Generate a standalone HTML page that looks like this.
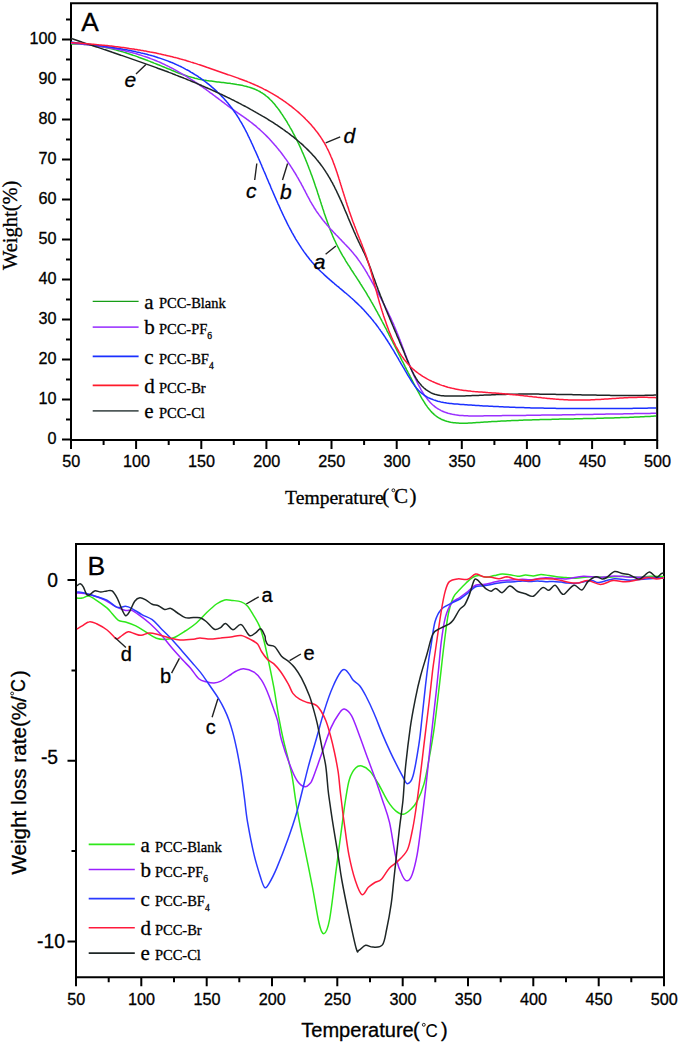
<!DOCTYPE html><html><head><meta charset="utf-8"><style>html,body{margin:0;padding:0;background:#fff;}svg{display:block;} text{stroke:#000;stroke-width:0.3px;}</style></head><body>
<svg width="680" height="1048" viewBox="0 0 680 1048">
<rect width="680" height="1048" fill="#fff"/>
<g fill="none" stroke="#000" stroke-width="2" stroke-linecap="square">
<path d="M71.0 3.2 H657.2 V440.0 H71.0 Z"/>
<path stroke-linecap="butt" d="M62.0 439.4H71.0M62.0 399.4H71.0M62.0 359.4H71.0M62.0 319.4H71.0M62.0 279.4H71.0M62.0 239.4H71.0M62.0 199.4H71.0M62.0 159.4H71.0M62.0 119.4H71.0M62.0 79.4H71.0M62.0 39.4H71.0M66.0 419.4H71.0M66.0 379.4H71.0M66.0 339.4H71.0M66.0 299.4H71.0M66.0 259.4H71.0M66.0 219.4H71.0M66.0 179.4H71.0M66.0 139.4H71.0M66.0 99.4H71.0M66.0 59.4H71.0M66.0 19.4H71.0M71.0 440.0V449.0M136.1 440.0V449.0M201.3 440.0V449.0M266.4 440.0V449.0M331.5 440.0V449.0M396.7 440.0V449.0M461.8 440.0V449.0M526.9 440.0V449.0M592.1 440.0V449.0M657.2 440.0V449.0M103.6 440.0V445.0M168.7 440.0V445.0M233.8 440.0V445.0M299.0 440.0V445.0M364.1 440.0V445.0M429.2 440.0V445.0M494.4 440.0V445.0M559.5 440.0V445.0M624.6 440.0V445.0"/>
</g>
<g font-family="Liberation Sans, sans-serif" font-size="16.2" fill="#000">
<text x="56.4" y="444.0" text-anchor="end">0</text>
<text x="56.4" y="404.0" text-anchor="end">10</text>
<text x="56.4" y="364.0" text-anchor="end">20</text>
<text x="56.4" y="324.0" text-anchor="end">30</text>
<text x="56.4" y="284.0" text-anchor="end">40</text>
<text x="56.4" y="244.0" text-anchor="end">50</text>
<text x="56.4" y="204.0" text-anchor="end">60</text>
<text x="56.4" y="164.0" text-anchor="end">70</text>
<text x="56.4" y="124.0" text-anchor="end">80</text>
<text x="56.4" y="84.0" text-anchor="end">90</text>
<text x="56.4" y="44.0" text-anchor="end">100</text>
<text x="71.3" y="467.0" text-anchor="middle">50</text>
<text x="136.4" y="467.0" text-anchor="middle">100</text>
<text x="201.6" y="467.0" text-anchor="middle">150</text>
<text x="266.7" y="467.0" text-anchor="middle">200</text>
<text x="331.8" y="467.0" text-anchor="middle">250</text>
<text x="397.0" y="467.0" text-anchor="middle">300</text>
<text x="462.1" y="467.0" text-anchor="middle">350</text>
<text x="527.2" y="467.0" text-anchor="middle">400</text>
<text x="592.4" y="467.0" text-anchor="middle">450</text>
<text x="657.5" y="467.0" text-anchor="middle">500</text>
</g>
<text x="81.3" y="31.0" font-family="Liberation Sans, sans-serif" font-size="26.3">A</text>
<text transform="translate(16.7 225.3) rotate(-90)" text-anchor="middle" font-family="Liberation Serif, serif" font-size="20.5">Weight(%)</text>
<text x="285.1" y="503.5" font-family="Liberation Serif, serif" font-size="19.6">Temperature</text>
<text x="382.3" y="503.0" font-family="Liberation Serif, serif" font-size="21">(</text>
<circle cx="393.4" cy="490.3" r="1.45" fill="none" stroke="#000" stroke-width="0.9"/>
<text x="393.9" y="503.2" font-family="Liberation Serif, serif" font-size="21.1">C</text>
<text x="409.5" y="503.0" font-family="Liberation Serif, serif" font-size="21">)</text>
<path d="M92.7 301.3H138.6" stroke="#169e16" stroke-width="1.3"/>
<text x="144.3" y="308.5" font-family="Liberation Serif, serif" font-size="21">a</text>
<text x="158.9" y="308.4" font-family="Liberation Serif, serif" font-size="14.5">PCC-Blank</text>
<path d="M92.7 327.1H138.6" stroke="#a448ff" stroke-width="1.7"/>
<text x="144.3" y="334.3" font-family="Liberation Serif, serif" font-size="21">b</text>
<text x="158.9" y="334.2" font-family="Liberation Serif, serif" font-size="14.5">PCC-PF<tspan font-size="9.5" dy="5">6</tspan></text>
<path d="M92.7 356.4H138.6" stroke="#1a30ff" stroke-width="1.6"/>
<text x="144.3" y="363.6" font-family="Liberation Serif, serif" font-size="21">c</text>
<text x="158.9" y="363.5" font-family="Liberation Serif, serif" font-size="14.5">PCC-BF<tspan font-size="9.5" dy="5">4</tspan></text>
<path d="M92.7 385.4H138.6" stroke="#ff1a2a" stroke-width="1.6"/>
<text x="144.3" y="392.6" font-family="Liberation Serif, serif" font-size="21">d</text>
<text x="158.9" y="392.5" font-family="Liberation Serif, serif" font-size="14.5">PCC-Br</text>
<path d="M92.7 410.9H138.6" stroke="#505a5a" stroke-width="1.8"/>
<text x="144.3" y="418.1" font-family="Liberation Serif, serif" font-size="21">e</text>
<text x="158.9" y="418.0" font-family="Liberation Serif, serif" font-size="14.5">PCC-Cl</text>
<path d="M71.0 44.0 L72.5 44.0 L74.0 44.0 L75.6 44.0 L77.1 44.0 L78.6 44.1 L80.1 44.1 L81.6 44.2 L83.1 44.3 L84.7 44.4 L86.2 44.5 L87.7 44.7 L89.2 44.8 L90.7 45.0 L92.2 45.2 L93.6 45.4 L95.1 45.6 L96.6 45.8 L98.1 46.1 L99.6 46.3 L101.1 46.6 L102.5 46.9 L104.0 47.2 L105.5 47.5 L106.9 47.8 L108.4 48.1 L109.9 48.4 L111.3 48.8 L112.8 49.1 L114.2 49.5 L115.7 49.9 L117.1 50.3 L118.6 50.7 L120.0 51.1 L121.5 51.5 L122.9 51.9 L124.3 52.4 L125.8 52.8 L127.2 53.3 L128.6 53.7 L130.1 54.2 L131.5 54.7 L132.9 55.2 L134.3 55.6 L135.8 56.1 L137.2 56.6 L138.6 57.2 L140.0 57.7 L141.4 58.2 L142.8 58.7 L144.2 59.2 L145.7 59.8 L147.1 60.3 L148.5 60.9 L149.9 61.4 L151.3 62.0 L152.7 62.5 L154.1 63.1 L155.5 63.6 L156.9 64.2 L158.3 64.8 L159.7 65.3 L161.1 65.9 L162.5 66.5 L163.9 67.0 L165.3 67.6 L166.7 68.2 L168.1 68.8 L169.5 69.3 L170.9 69.9 L172.2 70.5 L173.6 71.0 L175.0 71.6 L176.4 72.2 L177.8 72.7 L179.2 73.2 L180.6 73.7 L182.1 74.3 L183.5 74.8 L184.9 75.2 L186.3 75.7 L187.7 76.2 L189.1 76.6 L190.6 77.0 L192.0 77.4 L193.5 77.8 L194.9 78.2 L196.4 78.5 L197.8 78.9 L199.3 79.2 L200.8 79.4 L202.2 79.7 L203.7 80.0 L205.2 80.2 L206.7 80.5 L208.2 80.7 L209.7 80.9 L211.2 81.1 L212.7 81.3 L214.2 81.5 L215.7 81.7 L217.2 81.9 L218.7 82.0 L220.2 82.2 L221.8 82.4 L223.3 82.6 L224.8 82.8 L226.3 83.0 L227.8 83.2 L229.4 83.3 L230.9 83.6 L232.4 83.8 L233.9 84.0 L235.4 84.2 L237.0 84.5 L238.5 84.7 L240.0 85.0 L241.5 85.3 L243.0 85.6 L244.4 86.0 L245.9 86.3 L247.4 86.7 L248.8 87.1 L250.2 87.5 L251.6 88.0 L253.0 88.5 L254.4 89.0 L255.8 89.6 L257.1 90.2 L258.4 90.9 L259.7 91.5 L261.0 92.3 L262.2 93.0 L263.4 93.8 L264.6 94.7 L265.7 95.6 L266.9 96.5 L268.0 97.4 L269.1 98.4 L270.1 99.5 L271.2 100.5 L272.2 101.6 L273.2 102.7 L274.2 103.8 L275.2 105.0 L276.1 106.2 L277.1 107.4 L278.0 108.6 L278.9 109.8 L279.8 111.0 L280.6 112.3 L281.5 113.6 L282.4 114.8 L283.2 116.1 L284.0 117.4 L284.9 118.7 L285.7 120.0 L286.5 121.2 L287.3 122.5 L288.0 123.8 L288.8 125.1 L289.6 126.5 L290.3 127.8 L291.1 129.1 L291.8 130.4 L292.5 131.7 L293.2 133.1 L293.9 134.4 L294.6 135.7 L295.3 137.1 L296.0 138.4 L296.7 139.8 L297.4 141.1 L298.0 142.5 L298.7 143.8 L299.3 145.2 L300.0 146.6 L300.6 147.9 L301.2 149.3 L301.8 150.7 L302.4 152.1 L303.0 153.4 L303.6 154.8 L304.2 156.2 L304.8 157.6 L305.4 159.0 L305.9 160.4 L306.5 161.8 L307.1 163.2 L307.6 164.6 L308.2 166.0 L308.7 167.4 L309.2 168.8 L309.8 170.2 L310.3 171.6 L310.8 173.0 L311.3 174.4 L311.9 175.8 L312.4 177.3 L312.9 178.7 L313.4 180.1 L313.9 181.5 L314.4 182.9 L314.9 184.4 L315.3 185.8 L315.8 187.2 L316.3 188.6 L316.8 190.1 L317.3 191.5 L317.7 192.9 L318.2 194.4 L318.7 195.8 L319.1 197.2 L319.6 198.7 L320.1 200.1 L320.5 201.5 L321.0 203.0 L321.4 204.4 L321.9 205.8 L322.4 207.3 L322.8 208.7 L323.3 210.1 L323.8 211.6 L324.2 213.0 L324.7 214.4 L325.2 215.8 L325.7 217.3 L326.2 218.7 L326.7 220.1 L327.2 221.5 L327.7 222.9 L328.2 224.3 L328.7 225.7 L329.2 227.1 L329.7 228.5 L330.3 229.9 L330.8 231.3 L331.4 232.7 L332.0 234.1 L332.5 235.5 L333.1 236.9 L333.7 238.2 L334.3 239.6 L335.0 241.0 L335.6 242.3 L336.2 243.7 L336.9 245.0 L337.6 246.4 L338.3 247.7 L339.0 249.0 L339.7 250.4 L340.4 251.7 L341.1 253.0 L341.9 254.3 L342.6 255.6 L343.4 256.9 L344.2 258.2 L345.0 259.5 L345.7 260.8 L346.5 262.1 L347.3 263.4 L348.1 264.7 L349.0 265.9 L349.8 267.2 L350.6 268.5 L351.4 269.8 L352.2 271.0 L353.1 272.3 L353.9 273.6 L354.7 274.9 L355.6 276.1 L356.4 277.4 L357.2 278.7 L358.0 279.9 L358.9 281.2 L359.7 282.5 L360.5 283.8 L361.3 285.0 L362.1 286.3 L362.9 287.6 L363.7 288.9 L364.5 290.2 L365.3 291.4 L366.1 292.7 L366.9 294.0 L367.6 295.3 L368.4 296.6 L369.2 297.9 L369.9 299.2 L370.7 300.5 L371.4 301.8 L372.2 303.1 L372.9 304.4 L373.6 305.7 L374.4 307.0 L375.1 308.3 L375.8 309.6 L376.5 310.9 L377.3 312.2 L378.0 313.6 L378.7 314.9 L379.4 316.2 L380.1 317.5 L380.8 318.8 L381.5 320.1 L382.2 321.5 L382.9 322.8 L383.6 324.1 L384.3 325.4 L385.0 326.8 L385.7 328.1 L386.4 329.4 L387.0 330.8 L387.7 332.1 L388.4 333.4 L389.1 334.8 L389.8 336.1 L390.4 337.4 L391.1 338.8 L391.8 340.1 L392.5 341.4 L393.1 342.8 L393.8 344.1 L394.5 345.5 L395.2 346.8 L395.8 348.2 L396.5 349.5 L397.2 350.9 L397.9 352.2 L398.5 353.5 L399.2 354.9 L399.9 356.2 L400.6 357.6 L401.2 358.9 L401.9 360.3 L402.6 361.6 L403.3 363.0 L404.0 364.4 L404.6 365.7 L405.3 367.1 L406.0 368.4 L406.7 369.8 L407.4 371.1 L408.1 372.5 L408.8 373.8 L409.5 375.2 L410.2 376.6 L410.9 377.9 L411.6 379.3 L412.3 380.6 L413.0 382.0 L413.7 383.4 L414.4 384.7 L415.1 386.1 L415.9 387.4 L416.6 388.8 L417.3 390.2 L418.0 391.5 L418.8 392.9 L419.5 394.2 L420.3 395.6 L421.0 396.9 L421.8 398.3 L422.6 399.6 L423.4 400.9 L424.2 402.2 L425.0 403.5 L425.8 404.7 L426.7 405.9 L427.5 407.1 L428.4 408.3 L429.4 409.4 L430.3 410.5 L431.2 411.6 L432.2 412.6 L433.3 413.6 L434.3 414.6 L435.4 415.5 L436.5 416.3 L437.6 417.1 L438.8 417.9 L440.0 418.5 L441.2 419.2 L442.5 419.8 L443.8 420.3 L445.1 420.8 L446.5 421.2 L447.9 421.6 L449.3 421.9 L450.7 422.2 L452.2 422.4 L453.6 422.7 L455.1 422.8 L456.6 423.0 L458.1 423.1 L459.6 423.2 L461.1 423.2 L462.6 423.2 L464.1 423.2 L465.7 423.2 L467.2 423.2 L468.7 423.1 L470.3 423.0 L471.8 422.9 L473.4 422.8 L475.0 422.7 L476.5 422.6 L478.1 422.5 L479.6 422.4 L481.2 422.3 L482.7 422.2 L484.3 422.1 L485.8 422.0 L487.4 421.9 L488.9 421.8 L490.4 421.7 L492.0 421.6 L493.5 421.5 L495.1 421.5 L496.6 421.4 L498.1 421.3 L499.7 421.2 L501.2 421.1 L502.7 421.0 L504.2 421.0 L505.8 420.9 L507.3 420.8 L508.8 420.8 L510.3 420.7 L511.8 420.6 L513.3 420.6 L514.9 420.5 L516.4 420.4 L517.9 420.4 L519.4 420.3 L520.9 420.3 L522.4 420.2 L523.9 420.1 L525.4 420.1 L526.9 420.0 L528.4 420.0 L529.9 419.9 L531.4 419.9 L532.9 419.8 L534.4 419.8 L535.9 419.8 L537.4 419.7 L538.9 419.7 L540.4 419.6 L541.9 419.6 L543.4 419.5 L544.9 419.5 L546.4 419.5 L547.9 419.4 L549.4 419.4 L550.9 419.4 L552.4 419.3 L553.9 419.3 L555.4 419.2 L556.9 419.2 L558.3 419.2 L559.8 419.1 L561.3 419.1 L562.8 419.1 L564.3 419.0 L565.8 419.0 L567.3 419.0 L568.8 419.0 L570.3 418.9 L571.7 418.9 L573.2 418.9 L574.7 418.8 L576.2 418.8 L577.7 418.8 L579.2 418.7 L580.7 418.7 L582.2 418.7 L583.7 418.6 L585.1 418.6 L586.6 418.6 L588.1 418.5 L589.6 418.5 L591.1 418.5 L592.6 418.4 L594.1 418.4 L595.6 418.4 L597.1 418.3 L598.6 418.3 L600.1 418.2 L601.6 418.2 L603.0 418.2 L604.5 418.1 L606.0 418.1 L607.5 418.0 L609.0 418.0 L610.5 418.0 L612.0 417.9 L613.5 417.9 L615.0 417.8 L616.5 417.8 L618.0 417.7 L619.5 417.7 L621.0 417.6 L622.6 417.6 L624.1 417.5 L625.6 417.5 L627.1 417.4 L628.6 417.4 L630.1 417.3 L631.6 417.2 L633.1 417.2 L634.7 417.1 L636.2 417.1 L637.7 417.0 L639.2 416.9 L640.7 416.8 L642.3 416.8 L643.8 416.7 L645.3 416.6 L646.8 416.5 L648.4 416.5 L649.9 416.4 L651.4 416.3 L653.0 416.2 L654.5 416.1 L656.0 416.0" fill="none" stroke="#1ec81e" stroke-width="1.5" stroke-linejoin="round"/>
<path d="M71.0 43.2 L72.5 43.3 L74.0 43.4 L75.5 43.5 L77.0 43.7 L78.4 43.8 L79.9 44.0 L81.4 44.1 L82.9 44.3 L84.4 44.4 L85.9 44.6 L87.4 44.8 L88.9 44.9 L90.4 45.1 L91.9 45.3 L93.4 45.5 L94.9 45.6 L96.4 45.8 L97.8 46.0 L99.3 46.3 L100.8 46.5 L102.3 46.7 L103.8 46.9 L105.3 47.1 L106.8 47.4 L108.3 47.6 L109.8 47.9 L111.3 48.1 L112.8 48.4 L114.3 48.7 L115.8 49.0 L117.3 49.3 L118.7 49.6 L120.2 49.9 L121.7 50.2 L123.2 50.5 L124.6 50.8 L126.1 51.2 L127.6 51.5 L129.1 51.9 L130.5 52.3 L132.0 52.6 L133.4 53.0 L134.9 53.4 L136.3 53.8 L137.8 54.3 L139.2 54.7 L140.7 55.1 L142.1 55.6 L143.5 56.1 L144.9 56.5 L146.4 57.0 L147.8 57.5 L149.2 58.0 L150.6 58.6 L152.0 59.1 L153.4 59.6 L154.8 60.2 L156.2 60.8 L157.6 61.4 L158.9 61.9 L160.3 62.5 L161.7 63.2 L163.0 63.8 L164.4 64.4 L165.7 65.1 L167.1 65.7 L168.4 66.4 L169.8 67.1 L171.1 67.8 L172.4 68.4 L173.8 69.2 L175.1 69.9 L176.4 70.6 L177.7 71.3 L179.0 72.1 L180.3 72.8 L181.6 73.6 L182.9 74.3 L184.2 75.1 L185.5 75.9 L186.8 76.7 L188.1 77.5 L189.3 78.3 L190.6 79.1 L191.9 79.9 L193.1 80.7 L194.4 81.5 L195.7 82.4 L196.9 83.2 L198.2 84.0 L199.4 84.9 L200.6 85.8 L201.9 86.6 L203.1 87.5 L204.3 88.4 L205.6 89.2 L206.8 90.1 L208.0 91.0 L209.2 91.9 L210.4 92.8 L211.7 93.7 L212.9 94.6 L214.1 95.5 L215.3 96.4 L216.5 97.3 L217.7 98.2 L218.9 99.1 L220.1 100.0 L221.3 100.9 L222.5 101.8 L223.7 102.7 L224.9 103.6 L226.1 104.5 L227.3 105.4 L228.5 106.3 L229.7 107.2 L230.9 108.1 L232.2 109.0 L233.4 109.8 L234.6 110.7 L235.9 111.6 L237.1 112.4 L238.4 113.3 L239.6 114.1 L240.8 115.0 L242.1 115.8 L243.3 116.7 L244.6 117.6 L245.8 118.4 L247.0 119.3 L248.2 120.2 L249.4 121.1 L250.6 122.0 L251.8 122.9 L253.0 123.8 L254.2 124.8 L255.3 125.7 L256.5 126.7 L257.6 127.7 L258.7 128.7 L259.9 129.7 L261.0 130.7 L262.1 131.7 L263.2 132.7 L264.2 133.7 L265.3 134.8 L266.4 135.9 L267.4 136.9 L268.5 138.0 L269.5 139.1 L270.5 140.2 L271.5 141.3 L272.5 142.4 L273.5 143.5 L274.5 144.7 L275.5 145.8 L276.5 147.0 L277.4 148.1 L278.4 149.3 L279.3 150.5 L280.3 151.6 L281.2 152.8 L282.1 154.0 L283.0 155.2 L283.9 156.4 L284.8 157.7 L285.7 158.9 L286.6 160.1 L287.4 161.3 L288.3 162.6 L289.1 163.8 L290.0 165.1 L290.8 166.4 L291.6 167.6 L292.4 168.9 L293.2 170.2 L294.0 171.5 L294.8 172.7 L295.6 174.0 L296.4 175.3 L297.1 176.6 L297.9 177.9 L298.7 179.3 L299.4 180.6 L300.1 181.9 L300.9 183.2 L301.6 184.6 L302.3 185.9 L303.0 187.2 L303.7 188.6 L304.4 189.9 L305.1 191.2 L305.8 192.6 L306.5 193.9 L307.2 195.3 L307.9 196.6 L308.6 197.9 L309.3 199.2 L310.0 200.6 L310.7 201.9 L311.5 203.2 L312.2 204.5 L313.0 205.7 L313.8 207.0 L314.5 208.3 L315.4 209.5 L316.2 210.8 L317.0 212.0 L317.9 213.2 L318.7 214.4 L319.6 215.6 L320.5 216.8 L321.4 218.0 L322.3 219.2 L323.2 220.4 L324.2 221.5 L325.1 222.7 L326.1 223.8 L327.0 225.0 L328.0 226.1 L329.0 227.2 L330.0 228.4 L331.0 229.5 L332.1 230.6 L333.1 231.7 L334.1 232.8 L335.2 233.9 L336.2 235.0 L337.3 236.0 L338.3 237.1 L339.4 238.2 L340.4 239.3 L341.5 240.4 L342.5 241.5 L343.6 242.6 L344.6 243.7 L345.7 244.8 L346.7 245.9 L347.8 247.0 L348.8 248.1 L349.8 249.2 L350.8 250.3 L351.8 251.5 L352.8 252.6 L353.7 253.8 L354.7 254.9 L355.6 256.1 L356.6 257.3 L357.5 258.5 L358.3 259.7 L359.2 260.9 L360.1 262.1 L360.9 263.3 L361.7 264.6 L362.6 265.8 L363.4 267.1 L364.2 268.4 L365.0 269.6 L365.7 270.9 L366.5 272.2 L367.3 273.5 L368.0 274.8 L368.8 276.1 L369.5 277.4 L370.2 278.7 L371.0 280.0 L371.7 281.4 L372.4 282.7 L373.2 284.0 L373.9 285.3 L374.6 286.6 L375.3 288.0 L376.1 289.3 L376.8 290.6 L377.5 291.9 L378.2 293.3 L378.9 294.6 L379.6 295.9 L380.4 297.3 L381.1 298.6 L381.8 299.9 L382.5 301.3 L383.2 302.6 L383.8 303.9 L384.5 305.3 L385.2 306.6 L385.9 308.0 L386.6 309.3 L387.2 310.7 L387.9 312.0 L388.5 313.4 L389.2 314.8 L389.8 316.1 L390.5 317.5 L391.1 318.8 L391.7 320.2 L392.3 321.6 L393.0 323.0 L393.6 324.3 L394.1 325.7 L394.7 327.1 L395.3 328.5 L395.9 329.9 L396.5 331.2 L397.0 332.6 L397.6 334.0 L398.1 335.4 L398.7 336.8 L399.2 338.2 L399.8 339.6 L400.3 341.0 L400.8 342.4 L401.4 343.8 L401.9 345.2 L402.4 346.6 L403.0 348.0 L403.5 349.4 L404.0 350.8 L404.5 352.2 L405.1 353.6 L405.6 355.0 L406.2 356.5 L406.7 357.9 L407.2 359.3 L407.8 360.7 L408.4 362.1 L408.9 363.5 L409.5 364.9 L410.0 366.3 L410.6 367.7 L411.2 369.1 L411.8 370.5 L412.4 371.9 L413.0 373.3 L413.6 374.7 L414.2 376.1 L414.9 377.5 L415.5 378.8 L416.2 380.2 L416.9 381.6 L417.5 383.0 L418.2 384.4 L418.9 385.7 L419.7 387.1 L420.4 388.4 L421.1 389.8 L421.9 391.1 L422.7 392.4 L423.5 393.7 L424.3 394.9 L425.2 396.2 L426.1 397.4 L427.0 398.5 L427.9 399.7 L428.8 400.8 L429.8 401.9 L430.8 403.0 L431.8 404.0 L432.9 405.0 L434.0 405.9 L435.1 406.8 L436.2 407.7 L437.4 408.5 L438.6 409.2 L439.9 409.9 L441.2 410.6 L442.5 411.2 L443.8 411.8 L445.2 412.3 L446.6 412.7 L448.0 413.2 L449.4 413.6 L450.9 413.9 L452.3 414.3 L453.8 414.5 L455.3 414.8 L456.8 415.0 L458.3 415.2 L459.8 415.4 L461.3 415.5 L462.8 415.6 L464.3 415.7 L465.9 415.8 L467.4 415.8 L468.9 415.9 L470.5 415.9 L472.0 415.9 L473.6 415.9 L475.1 415.9 L476.6 415.9 L478.2 415.9 L479.7 415.9 L481.3 415.9 L482.8 415.9 L484.3 415.8 L485.9 415.8 L487.4 415.8 L488.9 415.8 L490.5 415.8 L492.0 415.8 L493.5 415.7 L495.1 415.7 L496.6 415.7 L498.1 415.7 L499.6 415.7 L501.2 415.7 L502.7 415.6 L504.2 415.6 L505.7 415.6 L507.2 415.6 L508.7 415.6 L510.3 415.6 L511.8 415.5 L513.3 415.5 L514.8 415.5 L516.3 415.5 L517.8 415.5 L519.3 415.4 L520.8 415.4 L522.3 415.4 L523.8 415.4 L525.4 415.4 L526.9 415.3 L528.4 415.3 L529.9 415.3 L531.4 415.3 L532.9 415.3 L534.4 415.2 L535.9 415.2 L537.4 415.2 L538.9 415.2 L540.4 415.2 L541.9 415.1 L543.4 415.1 L544.9 415.1 L546.3 415.1 L547.8 415.1 L549.3 415.0 L550.8 415.0 L552.3 415.0 L553.8 415.0 L555.3 415.0 L556.8 414.9 L558.3 414.9 L559.8 414.9 L561.3 414.9 L562.8 414.8 L564.3 414.8 L565.8 414.8 L567.3 414.8 L568.7 414.8 L570.2 414.7 L571.7 414.7 L573.2 414.7 L574.7 414.7 L576.2 414.6 L577.7 414.6 L579.2 414.6 L580.7 414.6 L582.2 414.5 L583.7 414.5 L585.2 414.5 L586.7 414.5 L588.2 414.4 L589.6 414.4 L591.1 414.4 L592.6 414.4 L594.1 414.3 L595.6 414.3 L597.1 414.3 L598.6 414.3 L600.1 414.2 L601.6 414.2 L603.1 414.2 L604.6 414.2 L606.1 414.1 L607.6 414.1 L609.1 414.1 L610.6 414.1 L612.1 414.0 L613.6 414.0 L615.1 414.0 L616.6 414.0 L618.1 413.9 L619.6 413.9 L621.1 413.9 L622.6 413.9 L624.1 413.8 L625.6 413.8 L627.2 413.8 L628.7 413.8 L630.2 413.7 L631.7 413.7 L633.2 413.7 L634.7 413.6 L636.2 413.6 L637.7 413.6 L639.3 413.6 L640.8 413.5 L642.3 413.5 L643.8 413.5 L645.3 413.5 L646.9 413.4 L648.4 413.4 L649.9 413.4 L651.4 413.3 L653.0 413.3 L654.5 413.3 L656.0 413.3" fill="none" stroke="#9a30ff" stroke-width="1.5" stroke-linejoin="round"/>
<path d="M71.1 42.1 L72.5 42.3 L74.0 42.5 L75.5 42.7 L77.0 42.9 L78.4 43.0 L79.9 43.2 L81.4 43.4 L82.9 43.6 L84.4 43.8 L85.9 44.0 L87.3 44.2 L88.8 44.3 L90.3 44.5 L91.8 44.7 L93.3 44.9 L94.8 45.1 L96.3 45.3 L97.8 45.5 L99.3 45.7 L100.8 45.9 L102.3 46.1 L103.8 46.3 L105.3 46.5 L106.8 46.7 L108.3 46.9 L109.8 47.1 L111.3 47.3 L112.7 47.6 L114.2 47.8 L115.7 48.0 L117.2 48.3 L118.7 48.5 L120.2 48.7 L121.7 49.0 L123.2 49.3 L124.7 49.5 L126.2 49.8 L127.7 50.1 L129.1 50.3 L130.6 50.6 L132.1 50.9 L133.6 51.2 L135.1 51.5 L136.5 51.9 L138.0 52.2 L139.5 52.5 L140.9 52.9 L142.4 53.2 L143.9 53.6 L145.3 53.9 L146.8 54.3 L148.2 54.7 L149.7 55.1 L151.1 55.5 L152.6 55.9 L154.0 56.3 L155.5 56.8 L156.9 57.2 L158.3 57.7 L159.7 58.1 L161.2 58.6 L162.6 59.1 L164.0 59.6 L165.4 60.1 L166.8 60.6 L168.2 61.1 L169.6 61.7 L171.0 62.3 L172.4 62.8 L173.8 63.4 L175.1 64.0 L176.5 64.6 L177.9 65.3 L179.2 65.9 L180.6 66.5 L181.9 67.2 L183.3 67.9 L184.6 68.6 L185.9 69.3 L187.3 70.0 L188.6 70.7 L189.9 71.5 L191.2 72.3 L192.5 73.0 L193.8 73.8 L195.0 74.6 L196.3 75.4 L197.6 76.2 L198.8 77.1 L200.1 77.9 L201.3 78.8 L202.5 79.7 L203.8 80.6 L205.0 81.5 L206.2 82.4 L207.4 83.3 L208.5 84.2 L209.7 85.2 L210.9 86.1 L212.0 87.1 L213.2 88.1 L214.3 89.1 L215.4 90.1 L216.5 91.1 L217.6 92.2 L218.7 93.2 L219.7 94.3 L220.8 95.3 L221.8 96.4 L222.9 97.5 L223.9 98.6 L224.9 99.7 L225.9 100.8 L226.9 102.0 L227.9 103.1 L228.8 104.3 L229.8 105.5 L230.7 106.6 L231.6 107.8 L232.5 109.0 L233.4 110.2 L234.2 111.5 L235.1 112.7 L235.9 113.9 L236.8 115.2 L237.6 116.5 L238.4 117.7 L239.2 119.0 L239.9 120.3 L240.7 121.6 L241.5 122.9 L242.2 124.2 L242.9 125.5 L243.7 126.8 L244.4 128.2 L245.1 129.5 L245.8 130.8 L246.5 132.2 L247.2 133.5 L247.8 134.9 L248.5 136.3 L249.2 137.6 L249.8 139.0 L250.5 140.4 L251.1 141.7 L251.7 143.1 L252.4 144.5 L253.0 145.9 L253.6 147.2 L254.2 148.6 L254.8 150.0 L255.5 151.4 L256.1 152.7 L256.7 154.1 L257.3 155.5 L257.9 156.9 L258.5 158.3 L259.1 159.6 L259.7 161.0 L260.3 162.4 L260.9 163.8 L261.5 165.1 L262.0 166.5 L262.6 167.9 L263.2 169.3 L263.8 170.7 L264.4 172.0 L265.0 173.4 L265.6 174.8 L266.2 176.2 L266.7 177.5 L267.3 178.9 L267.9 180.3 L268.5 181.7 L269.1 183.1 L269.7 184.4 L270.3 185.8 L270.8 187.2 L271.4 188.6 L272.0 190.0 L272.6 191.3 L273.2 192.7 L273.8 194.1 L274.4 195.5 L275.0 196.9 L275.6 198.2 L276.2 199.6 L276.8 201.0 L277.4 202.4 L278.0 203.8 L278.7 205.1 L279.3 206.5 L279.9 207.9 L280.5 209.3 L281.2 210.7 L281.8 212.0 L282.4 213.4 L283.1 214.8 L283.7 216.1 L284.4 217.5 L285.0 218.9 L285.7 220.2 L286.4 221.6 L287.0 222.9 L287.7 224.3 L288.4 225.6 L289.1 227.0 L289.8 228.3 L290.5 229.6 L291.2 230.9 L291.9 232.3 L292.7 233.6 L293.4 234.9 L294.1 236.2 L294.9 237.5 L295.6 238.8 L296.4 240.1 L297.2 241.4 L298.0 242.6 L298.8 243.9 L299.6 245.2 L300.4 246.4 L301.2 247.7 L302.0 248.9 L302.9 250.1 L303.7 251.4 L304.6 252.6 L305.5 253.8 L306.4 255.0 L307.3 256.2 L308.2 257.3 L309.1 258.5 L310.0 259.7 L311.0 260.8 L311.9 262.0 L312.9 263.1 L313.9 264.2 L314.9 265.3 L315.9 266.4 L316.9 267.5 L317.9 268.6 L319.0 269.7 L320.0 270.7 L321.1 271.8 L322.2 272.8 L323.3 273.8 L324.4 274.9 L325.5 275.9 L326.6 276.9 L327.7 277.9 L328.9 278.9 L330.0 279.9 L331.2 280.9 L332.3 281.8 L333.5 282.8 L334.6 283.8 L335.8 284.8 L336.9 285.8 L338.1 286.7 L339.3 287.7 L340.4 288.7 L341.6 289.6 L342.8 290.6 L343.9 291.6 L345.1 292.6 L346.3 293.5 L347.4 294.5 L348.6 295.5 L349.7 296.5 L350.8 297.5 L352.0 298.5 L353.1 299.5 L354.2 300.5 L355.3 301.6 L356.4 302.6 L357.5 303.6 L358.6 304.7 L359.7 305.8 L360.8 306.8 L361.8 307.9 L362.9 309.0 L363.9 310.1 L364.9 311.2 L365.9 312.3 L366.9 313.4 L367.9 314.5 L368.9 315.7 L369.9 316.8 L370.9 318.0 L371.8 319.1 L372.8 320.3 L373.7 321.5 L374.6 322.6 L375.6 323.8 L376.5 325.0 L377.4 326.2 L378.3 327.4 L379.1 328.6 L380.0 329.8 L380.9 331.1 L381.8 332.3 L382.6 333.5 L383.5 334.8 L384.3 336.0 L385.1 337.2 L385.9 338.5 L386.8 339.8 L387.6 341.0 L388.4 342.3 L389.2 343.5 L390.0 344.8 L390.8 346.1 L391.5 347.4 L392.3 348.7 L393.1 349.9 L393.9 351.2 L394.6 352.5 L395.4 353.8 L396.2 355.1 L396.9 356.4 L397.7 357.7 L398.5 359.0 L399.2 360.3 L400.0 361.7 L400.7 363.0 L401.5 364.3 L402.3 365.6 L403.0 366.9 L403.8 368.2 L404.6 369.5 L405.3 370.9 L406.1 372.2 L406.9 373.5 L407.6 374.8 L408.4 376.1 L409.2 377.4 L410.0 378.7 L410.8 380.0 L411.6 381.3 L412.4 382.6 L413.3 383.9 L414.2 385.1 L415.0 386.3 L416.0 387.5 L416.9 388.6 L417.9 389.7 L418.9 390.8 L419.9 391.8 L421.0 392.7 L422.1 393.7 L423.3 394.5 L424.4 395.4 L425.7 396.1 L426.9 396.9 L428.2 397.6 L429.5 398.2 L430.8 398.8 L432.2 399.3 L433.6 399.9 L435.0 400.3 L436.4 400.8 L437.8 401.2 L439.3 401.5 L440.7 401.9 L442.2 402.2 L443.7 402.5 L445.2 402.7 L446.7 403.0 L448.2 403.2 L449.8 403.4 L451.3 403.5 L452.8 403.7 L454.4 403.9 L455.9 404.0 L457.5 404.1 L459.0 404.2 L460.6 404.4 L462.1 404.5 L463.6 404.6 L465.2 404.7 L466.7 404.8 L468.2 404.9 L469.7 405.0 L471.2 405.1 L472.7 405.2 L474.2 405.3 L475.8 405.4 L477.3 405.5 L478.8 405.6 L480.2 405.7 L481.7 405.8 L483.2 405.9 L484.7 405.9 L486.2 406.0 L487.7 406.1 L489.2 406.2 L490.7 406.3 L492.2 406.3 L493.7 406.4 L495.1 406.5 L496.6 406.6 L498.1 406.6 L499.6 406.7 L501.1 406.8 L502.6 406.8 L504.1 406.9 L505.6 407.0 L507.1 407.0 L508.5 407.1 L510.0 407.2 L511.5 407.2 L513.0 407.3 L514.5 407.3 L516.0 407.4 L517.5 407.4 L519.0 407.5 L520.5 407.5 L522.0 407.6 L523.5 407.6 L525.0 407.7 L526.5 407.7 L528.0 407.8 L529.5 407.8 L531.0 407.9 L532.5 407.9 L534.0 407.9 L535.5 408.0 L537.0 408.0 L538.5 408.0 L540.0 408.1 L541.5 408.1 L543.0 408.1 L544.5 408.2 L546.0 408.2 L547.6 408.2 L549.1 408.3 L550.6 408.3 L552.1 408.3 L553.6 408.3 L555.1 408.3 L556.6 408.4 L558.1 408.4 L559.6 408.4 L561.1 408.4 L562.6 408.4 L564.1 408.5 L565.6 408.5 L567.2 408.5 L568.7 408.5 L570.2 408.5 L571.7 408.5 L573.2 408.5 L574.7 408.6 L576.2 408.6 L577.7 408.6 L579.2 408.6 L580.7 408.6 L582.3 408.6 L583.8 408.6 L585.3 408.6 L586.8 408.6 L588.3 408.6 L589.8 408.6 L591.3 408.6 L592.8 408.6 L594.3 408.6 L595.8 408.6 L597.4 408.6 L598.9 408.6 L600.4 408.6 L601.9 408.6 L603.4 408.6 L604.9 408.6 L606.4 408.6 L607.9 408.6 L609.4 408.5 L610.9 408.5 L612.4 408.5 L613.9 408.5 L615.5 408.5 L617.0 408.5 L618.5 408.5 L620.0 408.5 L621.5 408.5 L623.0 408.4 L624.5 408.4 L626.0 408.4 L627.5 408.4 L629.0 408.4 L630.5 408.4 L632.0 408.4 L633.5 408.3 L635.0 408.3 L636.5 408.3 L638.0 408.3 L639.5 408.3 L641.0 408.2 L642.5 408.2 L644.0 408.2 L645.5 408.2 L647.0 408.2 L648.5 408.1 L650.0 408.1 L651.5 408.1 L653.0 408.1 L654.5 408.0 L656.0 408.0" fill="none" stroke="#1a30ff" stroke-width="1.5" stroke-linejoin="round"/>
<path d="M70.9 38.3 L72.3 38.8 L73.7 39.2 L75.1 39.7 L76.6 40.2 L78.0 40.7 L79.4 41.2 L80.9 41.7 L82.3 42.2 L83.7 42.6 L85.1 43.1 L86.6 43.6 L88.0 44.1 L89.4 44.6 L90.9 45.0 L92.3 45.5 L93.7 46.0 L95.1 46.5 L96.6 47.0 L98.0 47.4 L99.4 47.9 L100.9 48.4 L102.3 48.9 L103.7 49.4 L105.1 49.8 L106.6 50.3 L108.0 50.8 L109.4 51.3 L110.9 51.8 L112.3 52.3 L113.7 52.7 L115.1 53.2 L116.6 53.7 L118.0 54.2 L119.4 54.7 L120.8 55.2 L122.3 55.6 L123.7 56.1 L125.1 56.6 L126.5 57.1 L128.0 57.6 L129.4 58.1 L130.8 58.6 L132.2 59.1 L133.6 59.6 L135.1 60.1 L136.5 60.6 L137.9 61.1 L139.3 61.6 L140.8 62.1 L142.2 62.6 L143.6 63.1 L145.0 63.6 L146.4 64.1 L147.8 64.6 L149.3 65.1 L150.7 65.6 L152.1 66.1 L153.5 66.6 L154.9 67.1 L156.3 67.6 L157.7 68.2 L159.1 68.7 L160.6 69.2 L162.0 69.7 L163.4 70.2 L164.8 70.8 L166.2 71.3 L167.6 71.8 L169.0 72.4 L170.4 72.9 L171.8 73.4 L173.2 74.0 L174.6 74.5 L176.0 75.1 L177.4 75.6 L178.8 76.2 L180.2 76.7 L181.6 77.3 L183.0 77.8 L184.4 78.4 L185.8 78.9 L187.2 79.5 L188.6 80.1 L190.0 80.6 L191.4 81.2 L192.7 81.8 L194.1 82.3 L195.5 82.9 L196.9 83.5 L198.3 84.1 L199.7 84.7 L201.1 85.3 L202.4 85.9 L203.8 86.5 L205.2 87.1 L206.6 87.7 L207.9 88.3 L209.3 88.9 L210.7 89.5 L212.1 90.1 L213.4 90.7 L214.8 91.3 L216.2 92.0 L217.5 92.6 L218.9 93.2 L220.2 93.9 L221.6 94.5 L223.0 95.2 L224.3 95.8 L225.7 96.5 L227.0 97.1 L228.4 97.8 L229.7 98.4 L231.1 99.1 L232.4 99.8 L233.8 100.4 L235.1 101.1 L236.5 101.8 L237.8 102.5 L239.1 103.2 L240.5 103.9 L241.8 104.6 L243.2 105.3 L244.5 106.0 L245.8 106.7 L247.2 107.4 L248.5 108.1 L249.8 108.9 L251.1 109.6 L252.5 110.3 L253.8 111.1 L255.1 111.8 L256.4 112.6 L257.7 113.3 L259.0 114.1 L260.3 114.8 L261.6 115.6 L263.0 116.4 L264.3 117.1 L265.6 117.9 L266.9 118.7 L268.1 119.5 L269.4 120.3 L270.7 121.1 L272.0 121.9 L273.3 122.7 L274.6 123.6 L275.8 124.4 L277.1 125.2 L278.4 126.1 L279.6 126.9 L280.9 127.8 L282.1 128.6 L283.3 129.5 L284.6 130.4 L285.8 131.3 L287.0 132.1 L288.2 133.0 L289.4 133.9 L290.6 134.9 L291.8 135.8 L293.0 136.7 L294.2 137.6 L295.3 138.6 L296.5 139.5 L297.6 140.5 L298.8 141.5 L299.9 142.5 L301.0 143.4 L302.2 144.4 L303.3 145.4 L304.3 146.5 L305.4 147.5 L306.5 148.5 L307.6 149.6 L308.6 150.6 L309.7 151.7 L310.7 152.7 L311.7 153.8 L312.7 154.9 L313.7 156.0 L314.7 157.1 L315.7 158.3 L316.6 159.4 L317.6 160.5 L318.5 161.7 L319.4 162.8 L320.3 164.0 L321.2 165.2 L322.1 166.4 L323.0 167.6 L323.8 168.8 L324.7 170.1 L325.5 171.3 L326.3 172.6 L327.1 173.8 L327.9 175.1 L328.6 176.4 L329.4 177.7 L330.2 179.0 L330.9 180.3 L331.6 181.6 L332.4 182.9 L333.1 184.3 L333.8 185.6 L334.5 187.0 L335.1 188.3 L335.8 189.7 L336.5 191.0 L337.1 192.4 L337.8 193.8 L338.4 195.2 L339.1 196.6 L339.7 197.9 L340.3 199.3 L341.0 200.7 L341.6 202.1 L342.2 203.5 L342.8 204.9 L343.4 206.3 L344.0 207.7 L344.6 209.2 L345.2 210.6 L345.8 212.0 L346.4 213.4 L347.0 214.8 L347.6 216.2 L348.1 217.6 L348.7 219.0 L349.3 220.4 L349.9 221.8 L350.5 223.2 L351.1 224.6 L351.7 226.0 L352.3 227.4 L352.9 228.8 L353.5 230.2 L354.1 231.6 L354.7 232.9 L355.3 234.3 L355.9 235.7 L356.5 237.0 L357.1 238.4 L357.8 239.7 L358.4 241.1 L359.0 242.4 L359.7 243.7 L360.3 245.1 L361.0 246.4 L361.6 247.7 L362.3 249.0 L362.9 250.4 L363.5 251.7 L364.2 253.0 L364.8 254.3 L365.4 255.7 L366.0 257.0 L366.6 258.4 L367.1 259.8 L367.7 261.1 L368.2 262.5 L368.8 263.9 L369.3 265.3 L369.9 266.7 L370.4 268.1 L370.9 269.5 L371.4 271.0 L371.9 272.4 L372.4 273.8 L372.9 275.2 L373.4 276.7 L373.9 278.1 L374.5 279.5 L375.0 281.0 L375.5 282.4 L376.0 283.8 L376.5 285.3 L377.1 286.7 L377.6 288.1 L378.1 289.6 L378.7 291.0 L379.2 292.4 L379.8 293.9 L380.3 295.3 L380.9 296.7 L381.5 298.1 L382.0 299.5 L382.6 300.9 L383.1 302.3 L383.7 303.7 L384.3 305.1 L384.8 306.5 L385.4 307.9 L385.9 309.3 L386.5 310.7 L387.1 312.0 L387.6 313.4 L388.2 314.8 L388.8 316.1 L389.4 317.5 L389.9 318.9 L390.5 320.2 L391.1 321.6 L391.6 322.9 L392.2 324.3 L392.8 325.7 L393.4 327.0 L393.9 328.4 L394.5 329.7 L395.1 331.1 L395.7 332.5 L396.3 333.8 L396.8 335.2 L397.4 336.6 L398.0 337.9 L398.6 339.3 L399.2 340.7 L399.7 342.1 L400.3 343.5 L400.9 344.8 L401.5 346.2 L402.1 347.6 L402.7 349.0 L403.3 350.4 L403.9 351.8 L404.5 353.3 L405.0 354.7 L405.6 356.1 L406.2 357.5 L406.8 359.0 L407.4 360.4 L408.0 361.9 L408.6 363.3 L409.3 364.8 L409.9 366.2 L410.5 367.6 L411.2 369.1 L411.8 370.5 L412.5 371.9 L413.2 373.2 L413.9 374.6 L414.7 376.0 L415.5 377.3 L416.3 378.6 L417.1 379.8 L417.9 381.1 L418.8 382.3 L419.7 383.4 L420.7 384.6 L421.6 385.7 L422.7 386.7 L423.7 387.7 L424.8 388.7 L425.9 389.6 L427.1 390.4 L428.3 391.2 L429.5 391.9 L430.7 392.6 L432.0 393.2 L433.3 393.7 L434.7 394.2 L436.1 394.6 L437.5 394.9 L438.9 395.2 L440.4 395.5 L441.8 395.7 L443.3 395.8 L444.8 395.9 L446.3 396.0 L447.9 396.1 L449.4 396.1 L450.9 396.1 L452.5 396.1 L454.0 396.1 L455.6 396.1 L457.1 396.1 L458.6 396.0 L460.2 396.0 L461.7 395.9 L463.2 395.9 L464.8 395.9 L466.3 395.8 L467.8 395.8 L469.3 395.7 L470.8 395.7 L472.4 395.6 L473.9 395.5 L475.4 395.5 L476.9 395.4 L478.4 395.4 L479.9 395.3 L481.4 395.2 L482.9 395.2 L484.4 395.1 L485.9 395.0 L487.4 395.0 L488.9 394.9 L490.4 394.9 L492.0 394.8 L493.5 394.7 L495.0 394.7 L496.5 394.6 L498.0 394.6 L499.5 394.5 L501.0 394.5 L502.5 394.4 L504.0 394.4 L505.5 394.4 L507.0 394.3 L508.5 394.3 L510.0 394.3 L511.5 394.2 L513.0 394.2 L514.5 394.2 L516.0 394.2 L517.5 394.2 L519.0 394.1 L520.5 394.1 L522.0 394.1 L523.5 394.1 L525.0 394.1 L526.5 394.1 L528.0 394.1 L529.5 394.1 L531.0 394.1 L532.5 394.1 L534.0 394.1 L535.5 394.1 L537.0 394.1 L538.5 394.1 L540.0 394.2 L541.6 394.2 L543.1 394.2 L544.6 394.2 L546.1 394.2 L547.6 394.2 L549.1 394.3 L550.6 394.3 L552.1 394.3 L553.6 394.3 L555.1 394.3 L556.6 394.4 L558.1 394.4 L559.6 394.4 L561.1 394.4 L562.6 394.5 L564.1 394.5 L565.6 394.5 L567.2 394.6 L568.7 394.6 L570.2 394.6 L571.7 394.6 L573.2 394.7 L574.7 394.7 L576.2 394.7 L577.7 394.8 L579.2 394.8 L580.7 394.8 L582.2 394.9 L583.7 394.9 L585.2 394.9 L586.7 395.0 L588.2 395.0 L589.7 395.0 L591.3 395.0 L592.8 395.1 L594.3 395.1 L595.8 395.1 L597.3 395.2 L598.8 395.2 L600.3 395.2 L601.8 395.2 L603.3 395.3 L604.8 395.3 L606.3 395.3 L607.8 395.3 L609.3 395.3 L610.8 395.4 L612.3 395.4 L613.9 395.4 L615.4 395.4 L616.9 395.4 L618.4 395.4 L619.9 395.4 L621.4 395.4 L622.9 395.5 L624.4 395.5 L625.9 395.5 L627.4 395.5 L628.9 395.5 L630.4 395.5 L631.9 395.5 L633.4 395.5 L634.9 395.4 L636.4 395.4 L637.9 395.4 L639.4 395.4 L641.0 395.4 L642.5 395.4 L644.0 395.4 L645.5 395.3 L647.0 395.3 L648.5 395.3 L650.0 395.2 L651.5 395.2 L653.0 395.2 L654.5 395.1 L656.0 395.1" fill="none" stroke="#1e2626" stroke-width="1.5" stroke-linejoin="round"/>
<path d="M71.0 42.6 L72.5 42.7 L74.0 42.8 L75.5 42.9 L77.0 43.0 L78.5 43.1 L80.0 43.2 L81.5 43.3 L83.0 43.4 L84.5 43.6 L86.0 43.7 L87.5 43.8 L89.0 43.9 L90.5 44.0 L92.0 44.2 L93.5 44.3 L95.0 44.4 L96.5 44.6 L98.0 44.7 L99.5 44.9 L101.0 45.0 L102.5 45.2 L104.0 45.3 L105.5 45.5 L107.0 45.6 L108.5 45.8 L110.0 46.0 L111.5 46.1 L112.9 46.3 L114.4 46.5 L115.9 46.7 L117.4 46.8 L118.9 47.0 L120.4 47.2 L121.9 47.4 L123.4 47.6 L124.9 47.8 L126.4 48.0 L127.9 48.2 L129.4 48.5 L130.9 48.7 L132.4 48.9 L133.8 49.1 L135.3 49.4 L136.8 49.6 L138.3 49.9 L139.8 50.1 L141.3 50.4 L142.8 50.6 L144.2 50.9 L145.7 51.1 L147.2 51.4 L148.7 51.7 L150.2 52.0 L151.6 52.2 L153.1 52.5 L154.6 52.8 L156.1 53.1 L157.5 53.4 L159.0 53.8 L160.5 54.1 L162.0 54.4 L163.4 54.7 L164.9 55.1 L166.4 55.4 L167.8 55.7 L169.3 56.1 L170.7 56.4 L172.2 56.8 L173.7 57.2 L175.1 57.5 L176.6 57.9 L178.0 58.3 L179.5 58.7 L180.9 59.1 L182.4 59.5 L183.8 59.9 L185.3 60.3 L186.7 60.8 L188.1 61.2 L189.6 61.6 L191.0 62.1 L192.5 62.5 L193.9 63.0 L195.3 63.4 L196.8 63.9 L198.2 64.4 L199.6 64.8 L201.0 65.3 L202.5 65.8 L203.9 66.3 L205.3 66.8 L206.7 67.3 L208.2 67.7 L209.6 68.2 L211.0 68.7 L212.4 69.2 L213.9 69.7 L215.3 70.2 L216.7 70.7 L218.1 71.2 L219.6 71.7 L221.0 72.2 L222.4 72.7 L223.8 73.2 L225.3 73.7 L226.7 74.2 L228.1 74.7 L229.5 75.1 L231.0 75.6 L232.4 76.1 L233.8 76.6 L235.2 77.1 L236.6 77.6 L238.1 78.1 L239.5 78.7 L240.9 79.2 L242.3 79.7 L243.7 80.2 L245.1 80.8 L246.5 81.3 L247.9 81.9 L249.3 82.4 L250.7 83.0 L252.1 83.6 L253.5 84.2 L254.8 84.8 L256.2 85.4 L257.6 86.0 L258.9 86.6 L260.3 87.3 L261.6 87.9 L263.0 88.6 L264.3 89.3 L265.7 90.0 L267.0 90.7 L268.3 91.4 L269.6 92.1 L271.0 92.9 L272.3 93.6 L273.6 94.4 L274.8 95.1 L276.1 95.9 L277.4 96.7 L278.7 97.5 L279.9 98.3 L281.2 99.2 L282.5 100.0 L283.7 100.9 L284.9 101.7 L286.2 102.6 L287.4 103.5 L288.6 104.4 L289.8 105.3 L291.0 106.2 L292.2 107.1 L293.4 108.1 L294.5 109.0 L295.7 110.0 L296.9 111.0 L298.0 111.9 L299.1 112.9 L300.3 114.0 L301.4 115.0 L302.5 116.0 L303.6 117.0 L304.7 118.1 L305.7 119.2 L306.8 120.2 L307.8 121.3 L308.9 122.4 L309.9 123.5 L310.9 124.6 L311.9 125.8 L312.9 126.9 L313.9 128.1 L314.8 129.2 L315.7 130.4 L316.7 131.6 L317.6 132.8 L318.5 134.0 L319.3 135.2 L320.2 136.4 L321.0 137.7 L321.8 138.9 L322.6 140.2 L323.4 141.5 L324.2 142.7 L324.9 144.0 L325.7 145.3 L326.4 146.7 L327.0 148.0 L327.7 149.3 L328.4 150.7 L329.0 152.0 L329.6 153.4 L330.3 154.8 L330.8 156.2 L331.4 157.5 L332.0 158.9 L332.6 160.3 L333.1 161.7 L333.6 163.1 L334.2 164.6 L334.7 166.0 L335.2 167.4 L335.7 168.8 L336.2 170.3 L336.7 171.7 L337.2 173.1 L337.6 174.6 L338.1 176.0 L338.6 177.5 L339.0 178.9 L339.5 180.3 L339.9 181.8 L340.4 183.2 L340.8 184.7 L341.3 186.1 L341.7 187.5 L342.2 189.0 L342.6 190.4 L343.1 191.9 L343.5 193.3 L344.0 194.7 L344.4 196.2 L344.9 197.6 L345.3 199.0 L345.8 200.5 L346.2 201.9 L346.7 203.3 L347.1 204.8 L347.6 206.2 L348.1 207.6 L348.6 209.1 L349.0 210.5 L349.5 211.9 L350.0 213.3 L350.5 214.7 L351.0 216.2 L351.5 217.6 L352.0 219.0 L352.5 220.4 L353.0 221.8 L353.6 223.2 L354.1 224.6 L354.6 226.0 L355.2 227.4 L355.7 228.8 L356.3 230.2 L356.8 231.7 L357.3 233.1 L357.9 234.5 L358.4 235.9 L359.0 237.3 L359.5 238.6 L360.1 240.0 L360.7 241.4 L361.2 242.8 L361.8 244.2 L362.3 245.6 L362.8 247.0 L363.4 248.4 L363.9 249.8 L364.4 251.3 L365.0 252.7 L365.5 254.1 L366.0 255.5 L366.5 256.9 L367.0 258.3 L367.4 259.7 L367.9 261.2 L368.3 262.6 L368.8 264.0 L369.2 265.4 L369.7 266.9 L370.1 268.3 L370.5 269.7 L370.9 271.2 L371.3 272.6 L371.7 274.1 L372.1 275.5 L372.5 276.9 L372.9 278.4 L373.3 279.8 L373.7 281.3 L374.1 282.7 L374.5 284.2 L374.9 285.6 L375.3 287.1 L375.6 288.5 L376.0 290.0 L376.4 291.4 L376.8 292.9 L377.2 294.3 L377.6 295.8 L378.0 297.2 L378.4 298.6 L378.8 300.1 L379.2 301.5 L379.6 303.0 L380.1 304.4 L380.5 305.9 L380.9 307.3 L381.4 308.7 L381.8 310.2 L382.3 311.6 L382.7 313.0 L383.2 314.5 L383.6 315.9 L384.1 317.3 L384.6 318.8 L385.1 320.2 L385.6 321.6 L386.1 323.1 L386.6 324.5 L387.1 325.9 L387.7 327.4 L388.2 328.8 L388.7 330.2 L389.3 331.6 L389.9 333.1 L390.5 334.5 L391.0 335.9 L391.6 337.3 L392.3 338.7 L392.9 340.1 L393.5 341.4 L394.2 342.8 L394.9 344.2 L395.5 345.5 L396.2 346.9 L397.0 348.2 L397.7 349.5 L398.5 350.8 L399.2 352.1 L400.0 353.4 L400.8 354.6 L401.6 355.9 L402.5 357.1 L403.4 358.3 L404.2 359.5 L405.2 360.7 L406.1 361.8 L407.0 362.9 L408.0 364.0 L409.0 365.1 L410.0 366.2 L411.1 367.2 L412.2 368.3 L413.3 369.3 L414.4 370.2 L415.5 371.2 L416.7 372.1 L417.9 373.0 L419.1 373.9 L420.3 374.7 L421.6 375.6 L422.8 376.4 L424.1 377.1 L425.4 377.9 L426.7 378.7 L428.0 379.4 L429.4 380.1 L430.7 380.7 L432.1 381.4 L433.5 382.0 L434.9 382.6 L436.3 383.2 L437.7 383.8 L439.1 384.3 L440.5 384.9 L442.0 385.4 L443.4 385.8 L444.9 386.3 L446.3 386.7 L447.8 387.2 L449.3 387.6 L450.7 387.9 L452.2 388.3 L453.7 388.6 L455.2 388.9 L456.6 389.2 L458.1 389.5 L459.6 389.8 L461.1 390.0 L462.5 390.2 L464.0 390.4 L465.5 390.6 L467.0 390.8 L468.5 391.0 L470.0 391.1 L471.4 391.3 L472.9 391.4 L474.4 391.6 L475.9 391.7 L477.4 391.8 L478.9 391.9 L480.3 392.0 L481.8 392.1 L483.3 392.2 L484.8 392.3 L486.3 392.4 L487.8 392.6 L489.3 392.7 L490.8 392.8 L492.3 392.9 L493.8 393.0 L495.3 393.1 L496.8 393.2 L498.3 393.3 L499.8 393.5 L501.3 393.6 L502.8 393.7 L504.3 393.8 L505.8 394.0 L507.3 394.1 L508.8 394.2 L510.3 394.4 L511.8 394.5 L513.3 394.7 L514.8 394.8 L516.3 395.0 L517.8 395.1 L519.3 395.3 L520.8 395.4 L522.2 395.6 L523.7 395.8 L525.2 395.9 L526.7 396.1 L528.2 396.3 L529.7 396.4 L531.2 396.6 L532.7 396.8 L534.2 396.9 L535.7 397.1 L537.2 397.3 L538.7 397.4 L540.2 397.6 L541.7 397.8 L543.2 397.9 L544.7 398.1 L546.2 398.2 L547.7 398.4 L549.2 398.5 L550.7 398.7 L552.2 398.8 L553.7 398.9 L555.2 399.1 L556.7 399.2 L558.2 399.3 L559.7 399.4 L561.2 399.5 L562.7 399.6 L564.2 399.7 L565.7 399.8 L567.2 399.8 L568.7 399.9 L570.2 400.0 L571.7 400.0 L573.2 400.1 L574.7 400.1 L576.2 400.1 L577.7 400.1 L579.2 400.1 L580.7 400.1 L582.2 400.1 L583.8 400.1 L585.3 400.0 L586.8 400.0 L588.3 399.9 L589.8 399.9 L591.3 399.8 L592.8 399.8 L594.3 399.7 L595.8 399.6 L597.3 399.5 L598.8 399.4 L600.3 399.4 L601.8 399.3 L603.3 399.2 L604.8 399.1 L606.3 399.0 L607.8 398.9 L609.4 398.8 L610.9 398.7 L612.4 398.6 L613.9 398.5 L615.4 398.4 L616.9 398.3 L618.4 398.2 L619.9 398.1 L621.4 398.0 L622.9 397.9 L624.4 397.8 L625.9 397.8 L627.4 397.7 L628.9 397.6 L630.4 397.6 L632.0 397.5 L633.5 397.4 L635.0 397.4 L636.5 397.4 L638.0 397.3 L639.5 397.3 L641.0 397.3 L642.5 397.3 L644.0 397.3 L645.5 397.3 L647.0 397.3 L648.5 397.4 L650.0 397.4 L651.5 397.5 L653.0 397.5 L654.5 397.6 L656.0 397.7" fill="none" stroke="#ff1a3c" stroke-width="1.5" stroke-linejoin="round"/>
<g font-family="Liberation Sans, sans-serif" font-style="italic" font-size="21" fill="#000">
<text x="124.5" y="87">e</text>
<text x="343.5" y="142.8">d</text>
<text x="246" y="198.3">c</text>
<text x="280" y="198.8">b</text>
<text x="313.8" y="268.5">a</text>
</g>
<path d="M136 74.1L145.9 64.6M325.7 142.9L340.2 136.8M254.7 180L256.8 163.5M282.5 180L287.6 163.5M325.6 254.3L335.9 246" stroke="#222" stroke-width="1.4" fill="none"/>
<g fill="none" stroke="#000" stroke-width="2">
<path d="M76.0 544.0 H664.0 V977.3 H76.0 Z"/>
<path d="M67.5 580.0H76.0M67.5 760.8H76.0M67.5 941.5H76.0M71.5 670.4H76.0M71.5 851.1H76.0M76.0 977.3V986.3M141.3 977.3V986.3M206.7 977.3V986.3M272.0 977.3V986.3M337.3 977.3V986.3M402.7 977.3V986.3M468.0 977.3V986.3M533.3 977.3V986.3M598.7 977.3V986.3M664.0 977.3V986.3M108.7 977.3V982.3M174.0 977.3V982.3M239.3 977.3V982.3M304.7 977.3V982.3M370.0 977.3V982.3M435.3 977.3V982.3M500.7 977.3V982.3M566.0 977.3V982.3M631.3 977.3V982.3"/>
</g>
<g font-family="Liberation Sans, sans-serif" font-size="19.3" fill="#000">
<text x="47.25" y="586.5">0</text>
<text x="40.9" y="764.4">-5</text>
<text x="37.0" y="948.0">-10</text>
</g>
<g font-family="Liberation Sans, sans-serif" font-size="16.2" fill="#000">
<text x="76.3" y="1005.0" text-anchor="middle">50</text>
<text x="141.6" y="1005.0" text-anchor="middle">100</text>
<text x="207.0" y="1005.0" text-anchor="middle">150</text>
<text x="272.3" y="1005.0" text-anchor="middle">200</text>
<text x="337.6" y="1005.0" text-anchor="middle">250</text>
<text x="403.0" y="1005.0" text-anchor="middle">300</text>
<text x="468.3" y="1005.0" text-anchor="middle">350</text>
<text x="533.6" y="1005.0" text-anchor="middle">400</text>
<text x="599.0" y="1005.0" text-anchor="middle">450</text>
<text x="664.3" y="1005.0" text-anchor="middle">500</text>
</g>
<text x="87.4" y="575.1" font-family="Liberation Sans, sans-serif" font-size="26.5">B</text>
<g transform="translate(25.7 874.6) rotate(-90)">
<text x="0" y="0" transform="scale(1.069 1)" font-family="Liberation Sans, sans-serif" font-size="19.3">Weight loss rate(%/</text>
<circle cx="181.1" cy="-13.6" r="1.45" fill="none" stroke="#000" stroke-width="0.85"/>
<text x="0" y="0" transform="translate(182.6 -0.3) scale(0.88 1)" font-family="Liberation Sans, sans-serif" font-size="20.3">C</text>
<text x="197.7" y="0" font-family="Liberation Sans, sans-serif" font-size="20.5">)</text>
</g>
<text x="0" y="0" transform="translate(301.3 1037.3) scale(1.038 1)" font-family="Liberation Sans, sans-serif" font-size="19.3">Temperature</text>
<text x="412.9" y="1037.4" font-family="Liberation Sans, sans-serif" font-size="20">(</text>
<circle cx="423.8" cy="1024.8" r="1.45" fill="none" stroke="#000" stroke-width="0.85"/>
<text x="0" y="0" transform="translate(425.5 1036.8) scale(0.9 1)" style="stroke-width:0.1px" font-family="Liberation Sans, sans-serif" font-size="18.8">C</text>
<text x="440.9" y="1037.4" font-family="Liberation Sans, sans-serif" font-size="20">)</text>
<path d="M88.7 844.4H134.8" stroke="#2ee81a" stroke-width="1.6"/>
<text x="140.4" y="851.6" font-family="Liberation Serif, serif" font-size="21">a</text>
<text x="154.9" y="851.5" font-family="Liberation Serif, serif" font-size="14.5">PCC-Blank</text>
<path d="M88.7 869.5H134.8" stroke="#9a20ff" stroke-width="1.6"/>
<text x="140.4" y="876.7" font-family="Liberation Serif, serif" font-size="21">b</text>
<text x="154.9" y="876.6" font-family="Liberation Serif, serif" font-size="14.5">PCC-PF<tspan font-size="9.5" dy="5">6</tspan></text>
<path d="M88.7 898.6H134.8" stroke="#2a3aff" stroke-width="1.6"/>
<text x="140.4" y="905.8" font-family="Liberation Serif, serif" font-size="21">c</text>
<text x="154.9" y="905.7" font-family="Liberation Serif, serif" font-size="14.5">PCC-BF<tspan font-size="9.5" dy="5">4</tspan></text>
<path d="M88.7 927.7H134.8" stroke="#ff1a3c" stroke-width="1.6"/>
<text x="140.4" y="934.9" font-family="Liberation Serif, serif" font-size="21">d</text>
<text x="154.9" y="934.8" font-family="Liberation Serif, serif" font-size="14.5">PCC-Br</text>
<path d="M88.7 953.1H134.8" stroke="#1e2626" stroke-width="1.6"/>
<text x="140.4" y="960.3" font-family="Liberation Serif, serif" font-size="21">e</text>
<text x="154.9" y="960.2" font-family="Liberation Serif, serif" font-size="14.5">PCC-Cl</text>
<path d="M77.0 598.1C77.9 598.1 80.3 598.5 82.2 598.1C84.1 597.8 86.3 595.8 88.4 596.0C90.5 596.2 91.5 597.1 94.6 599.1C97.7 601.1 104.0 605.5 106.9 607.9C109.8 610.3 110.1 611.4 112.0 613.5C113.9 615.6 116.2 618.9 118.4 620.3C120.7 621.7 122.6 621.1 125.5 622.0C128.4 622.9 132.4 624.2 135.8 625.9C139.2 627.6 142.7 630.0 146.1 632.1C149.5 634.2 153.0 637.0 156.4 638.2C159.8 639.4 163.6 639.5 166.7 639.3C169.8 639.1 171.8 638.6 174.9 637.2C178.0 635.8 181.8 633.2 185.2 631.0C188.6 628.8 191.9 626.9 195.5 623.8C199.1 620.7 203.5 615.6 207.0 612.3C210.5 609.0 213.6 606.1 216.5 604.0C219.4 601.9 222.0 600.5 224.7 599.9C227.4 599.3 230.2 600.2 232.9 600.5C235.7 600.8 238.8 601.0 241.2 601.9C243.6 602.8 245.3 603.8 247.4 606.0C249.5 608.2 251.4 611.9 253.5 615.3C255.6 618.7 258.0 622.5 259.7 626.6C261.4 630.7 262.4 634.6 263.8 640.0C265.2 645.4 266.4 651.1 268.1 659.1C269.8 667.1 272.1 678.2 273.9 687.7C275.6 697.2 277.0 707.6 278.6 716.3C280.2 725.0 281.2 730.5 283.4 740.0C285.5 749.5 289.5 763.2 291.5 773.2C293.5 783.2 294.3 791.8 295.6 800.0C296.9 808.2 297.8 813.2 299.5 822.4C301.2 831.5 303.8 844.1 306.0 854.9C308.2 865.7 310.3 875.9 312.5 887.3C314.7 898.6 317.1 915.3 319.0 923.0C320.9 930.7 322.2 934.1 324.0 933.6C325.8 933.1 327.5 930.2 329.5 919.8C331.5 909.4 333.9 887.3 336.0 871.1C338.1 854.9 340.8 834.2 342.4 822.4C344.0 810.5 344.3 807.2 345.5 800.0C346.7 792.8 347.7 784.7 349.4 779.4C351.1 774.1 353.5 770.3 355.6 768.1C357.7 765.9 359.4 765.5 361.8 766.0C364.2 766.5 367.3 768.3 370.0 771.2C372.7 774.1 375.2 778.5 378.2 783.5C381.2 788.5 384.9 796.8 387.9 801.4C390.9 806.0 393.4 809.0 396.0 811.1C398.6 813.2 400.9 814.6 403.3 814.3C405.7 814.0 408.3 811.7 410.6 809.5C412.9 807.3 415.0 805.4 417.2 801.1C419.4 796.8 422.0 791.0 424.0 783.9C426.0 776.8 427.5 767.6 429.2 758.2C430.9 748.8 432.6 739.6 434.3 727.3C436.0 715.0 437.9 698.0 439.5 684.3C441.1 670.6 442.5 656.8 444.0 645.0C445.5 633.2 446.8 621.5 448.4 613.5C450.0 605.5 451.6 601.1 453.5 597.1C455.4 593.1 457.9 591.6 460.0 589.2C462.1 586.8 464.1 584.9 466.2 582.9C468.3 580.9 470.4 578.7 472.5 577.5C474.6 576.3 476.4 575.6 478.7 575.6C481.0 575.6 483.9 577.2 486.5 577.2C489.1 577.2 491.7 576.1 494.3 575.6C496.9 575.1 499.5 574.1 502.1 574.0C504.7 573.9 507.3 574.3 509.9 574.7C512.5 575.1 515.1 576.1 517.7 576.2C520.3 576.3 522.9 575.2 525.5 575.1C528.1 575.0 530.7 576.0 533.3 575.9C535.9 575.8 538.5 574.4 541.1 574.4C543.7 574.4 546.3 575.2 548.9 575.6C551.5 576.0 553.8 576.4 556.6 576.7C559.5 577.0 562.8 577.2 566.0 577.5C569.2 577.8 571.4 578.4 575.6 578.3C579.8 578.2 586.0 576.8 591.2 576.7C596.4 576.6 601.6 577.6 606.8 577.5C612.0 577.4 617.2 576.2 622.4 576.2C627.6 576.2 633.2 577.2 637.9 577.2C642.6 577.2 646.0 576.3 650.4 576.2C654.8 576.1 661.7 576.6 664.0 576.7" fill="none" stroke="#2ee81a" stroke-width="1.5" stroke-linejoin="round"/>
<path d="M77.0 593.0C78.2 593.1 81.4 592.9 84.3 593.4C87.2 593.9 91.2 594.9 94.6 596.0C98.0 597.1 101.5 598.4 104.9 600.1C108.3 601.8 111.8 604.6 115.2 606.3C118.6 608.0 122.8 609.7 125.5 610.4C128.2 611.1 129.2 609.5 131.6 610.4C134.0 611.3 136.8 613.4 139.9 615.6C143.0 617.8 146.8 620.7 150.2 623.8C153.6 626.9 156.9 630.1 160.5 634.1C164.1 638.1 168.3 643.7 172.0 648.0C175.7 652.3 179.4 656.4 182.5 659.8C185.6 663.2 187.9 665.1 190.6 668.2C193.3 671.4 196.2 676.4 198.8 678.7C201.5 681.0 204.0 681.1 206.5 681.8C209.0 682.5 211.6 683.1 214.0 683.0C216.4 682.9 218.1 682.6 220.9 681.2C223.7 679.8 228.5 676.1 231.0 674.5C233.5 672.9 233.8 672.3 235.9 671.3C238.0 670.3 240.5 668.6 243.5 668.7C246.5 668.9 251.0 670.3 254.0 672.2C257.0 674.1 259.3 676.9 261.5 680.1C263.7 683.3 265.3 687.0 267.2 691.5C269.1 696.0 271.1 701.9 272.9 706.8C274.6 711.7 276.3 715.6 277.7 721.1C279.1 726.6 279.2 732.0 281.5 740.0C283.8 748.0 288.8 762.2 291.5 769.1C294.2 776.0 295.4 778.5 297.7 781.5C299.9 784.5 302.9 786.5 305.0 786.8C307.1 787.1 308.8 784.7 310.0 783.5C311.2 782.3 310.6 783.9 312.4 779.4C314.2 774.9 317.5 765.4 320.6 756.8C323.7 748.2 327.8 735.1 330.9 727.9C334.0 720.7 336.9 716.6 339.1 713.5C341.3 710.4 342.2 708.6 344.3 709.0C346.4 709.4 348.9 711.1 351.5 715.6C354.1 720.1 357.0 729.0 359.7 736.2C362.4 743.4 365.1 751.2 367.9 758.8C370.6 766.3 373.8 774.6 376.2 781.5C378.6 788.4 380.2 793.2 382.4 800.0C384.6 806.8 387.2 812.7 389.5 822.4C391.8 832.1 393.8 849.2 396.0 858.1C398.2 867.0 400.6 872.2 402.5 876.0C404.4 879.8 405.7 881.1 407.3 880.8C408.9 880.5 410.6 878.7 412.2 874.4C413.8 870.1 415.7 862.3 417.1 854.9C418.5 847.5 419.2 841.3 420.6 830.0C422.1 818.7 424.1 802.4 425.8 787.3C427.5 772.2 429.2 755.0 430.9 739.3C432.6 723.6 434.8 704.4 436.1 692.9C437.4 681.4 437.6 678.4 438.5 670.0C439.4 661.6 440.1 651.1 441.2 642.4C442.3 633.7 443.6 624.1 445.3 617.6C447.0 611.1 449.1 606.6 451.5 603.2C453.9 599.9 457.0 599.5 459.7 597.5C462.4 595.5 465.1 593.5 467.8 591.5C470.5 589.5 473.0 586.5 475.6 585.3C478.2 584.1 480.8 584.9 483.4 584.5C486.0 584.1 488.6 583.5 491.2 582.9C493.8 582.3 496.4 581.3 499.0 580.9C501.6 580.5 504.2 580.5 506.8 580.3C509.4 580.1 512.0 580.0 514.6 579.8C517.2 579.6 519.8 579.3 522.4 579.3C525.0 579.3 527.5 579.9 530.1 579.8C532.7 579.7 535.3 579.0 537.9 578.7C540.5 578.4 543.1 577.9 545.7 577.8C548.3 577.7 550.9 578.1 553.5 578.3C556.1 578.4 558.9 578.6 561.3 578.7C563.7 578.8 564.1 579.1 567.8 578.7C571.5 578.3 578.2 576.4 583.4 576.2C588.6 576.0 593.8 577.5 599.0 577.5C604.2 577.5 609.4 575.9 614.6 575.9C619.8 575.9 624.9 577.0 630.1 577.2C635.3 577.4 640.1 577.0 645.7 577.2C651.4 577.4 661.0 578.1 664.0 578.3" fill="none" stroke="#9a20ff" stroke-width="1.5" stroke-linejoin="round"/>
<path d="M77.0 591.9C78.2 592.1 81.4 592.2 84.3 592.9C87.2 593.6 90.8 594.8 94.6 596.0C98.4 597.2 103.1 598.2 106.9 600.1C110.7 602.0 114.1 606.4 117.2 607.4C120.3 608.4 123.1 606.1 125.5 606.3C127.9 606.5 128.9 607.0 131.6 608.4C134.3 609.8 138.5 612.7 141.9 614.6C145.3 616.5 149.1 617.5 152.2 619.7C155.3 621.9 157.4 624.9 160.5 628.0C163.6 631.1 167.2 634.4 170.8 638.2C174.4 642.0 178.5 647.0 182.0 651.0C185.5 655.0 188.9 658.9 192.0 662.5C195.1 666.1 197.8 669.0 200.5 672.4C203.2 675.8 205.0 678.6 208.0 683.0C211.0 687.4 215.9 694.2 218.6 698.6C221.3 703.0 222.6 705.5 224.3 709.1C226.1 712.8 227.7 716.5 229.1 720.5C230.5 724.5 231.6 728.1 232.9 732.9C234.2 737.7 235.6 744.0 236.7 749.2C237.8 754.5 238.8 760.0 239.6 764.4C240.4 768.8 240.9 771.6 241.5 775.9C242.1 780.2 242.9 786.0 243.4 790.0C243.9 794.0 244.0 794.6 244.7 800.0C245.4 805.4 246.0 813.2 247.6 822.4C249.2 831.5 251.9 845.7 254.1 854.9C256.3 864.1 258.9 872.2 260.6 877.6C262.4 883.0 263.2 886.2 264.6 887.3C266.0 888.4 266.7 887.3 268.7 884.1C270.7 880.9 273.6 875.5 276.8 867.9C280.0 860.3 284.9 847.6 288.1 838.7C291.3 829.8 293.9 822.1 296.2 814.3C298.5 806.5 300.0 799.9 302.0 792.0C304.0 784.1 305.8 776.1 308.2 767.1C310.6 758.1 313.8 747.8 316.5 738.2C319.2 728.6 322.0 718.0 324.7 709.4C327.4 700.8 330.1 693.1 332.9 686.8C335.6 680.4 339.1 674.1 341.2 671.3C343.3 668.5 343.9 669.4 345.3 669.9C346.7 670.4 348.0 672.6 349.4 674.4C350.8 676.2 351.8 678.7 353.5 680.6C355.2 682.5 357.6 683.1 359.7 685.7C361.8 688.3 363.5 691.4 365.9 696.0C368.3 700.6 371.4 707.1 374.1 713.5C376.9 719.9 379.6 727.6 382.4 734.1C385.1 740.6 387.9 746.8 390.6 752.6C393.3 758.4 396.7 765.0 398.8 769.1C400.9 773.2 401.6 774.6 403.0 777.0C404.4 779.4 405.8 783.9 407.5 783.7C409.2 783.5 411.1 782.5 413.0 776.0C414.9 769.5 417.4 754.1 418.9 744.4C420.4 734.7 420.9 728.0 422.0 718.0C423.1 708.0 424.5 694.4 425.6 684.7C426.7 675.0 427.8 666.4 428.7 660.0C429.6 653.6 429.8 652.9 430.9 646.5C431.9 640.1 433.3 628.0 435.0 621.8C436.7 615.6 438.4 612.5 441.2 609.4C443.9 606.3 448.4 604.9 451.5 603.2C454.6 601.5 457.3 600.7 460.0 599.0C462.7 597.3 465.2 595.1 467.8 593.1C470.4 591.1 473.0 588.0 475.6 586.8C478.2 585.6 480.8 586.4 483.4 586.0C486.0 585.6 488.6 585.0 491.2 584.5C493.8 584.0 496.4 583.3 499.0 582.9C501.6 582.5 504.2 582.3 506.8 582.1C509.4 581.9 512.0 582.0 514.6 581.8C517.2 581.6 519.8 581.0 522.4 580.9C525.0 580.8 527.5 581.4 530.1 581.4C532.7 581.4 535.3 580.8 537.9 580.9C540.5 581.0 543.1 581.7 545.7 581.8C548.3 581.9 550.9 581.3 553.5 581.4C556.1 581.5 559.2 581.9 561.3 582.1C563.4 582.4 563.6 582.7 566.0 582.9C568.4 583.1 571.4 583.8 575.6 583.4C579.8 583.0 587.3 580.8 591.2 580.6C595.1 580.5 595.1 582.8 599.0 582.5C602.9 582.2 609.4 579.1 614.6 578.7C619.8 578.3 624.9 580.2 630.1 580.3C635.3 580.3 640.1 579.4 645.7 579.0C651.4 578.6 661.0 578.0 664.0 577.8" fill="none" stroke="#2a3aff" stroke-width="1.5" stroke-linejoin="round"/>
<path d="M77.0 629.0C77.9 628.5 80.1 627.1 82.2 625.9C84.3 624.7 87.0 622.1 89.4 621.8C91.8 621.4 93.6 622.4 96.6 623.8C99.5 625.2 104.1 627.7 107.1 630.0C110.1 632.3 113.0 636.1 114.7 637.6C116.5 639.1 116.4 639.1 117.6 638.8C118.8 638.4 120.2 636.7 122.0 635.5C123.8 634.3 126.2 632.1 128.2 631.8C130.2 631.5 131.8 632.9 134.0 633.5C136.2 634.1 138.6 635.4 141.2 635.3C143.8 635.2 146.5 633.0 149.4 632.9C152.3 632.8 155.3 633.8 158.8 634.7C162.3 635.6 167.1 637.3 170.6 638.2C174.1 639.1 176.2 639.8 180.0 640.0C183.8 640.2 190.1 639.6 193.4 639.3C196.7 638.9 197.2 637.9 200.0 637.9C202.8 637.9 206.9 639.0 210.3 639.0C213.7 639.0 217.2 638.2 220.6 637.9C224.0 637.5 227.5 637.3 230.9 636.9C234.3 636.5 237.8 635.0 241.2 635.5C244.6 636.0 248.8 638.6 251.5 640.0C254.2 641.4 255.9 642.2 257.6 644.1C259.3 646.0 259.9 649.0 261.5 651.5C263.1 654.0 265.1 657.0 267.2 659.1C269.3 661.2 271.7 661.8 273.9 663.9C276.1 666.0 278.1 668.2 280.5 671.5C282.9 674.8 286.1 680.2 288.2 683.9C290.3 687.5 291.0 690.8 292.9 693.4C294.8 696.0 297.2 697.7 299.6 699.2C302.0 700.7 305.3 701.8 307.3 702.5C309.3 703.2 309.9 702.9 311.5 703.4C313.1 703.9 315.1 704.4 316.7 705.7C318.3 707.0 319.5 708.5 321.0 711.0C322.5 713.5 324.2 716.4 325.8 720.5C327.4 724.6 329.1 730.5 330.5 735.8C331.9 741.0 333.1 746.0 334.4 752.0C335.7 758.0 337.2 765.8 338.2 772.1C339.1 778.4 339.6 785.4 340.1 790.0C340.6 794.6 340.6 794.6 341.3 800.0C342.0 805.4 342.8 813.2 344.1 822.4C345.4 831.5 347.0 845.2 348.9 854.9C350.8 864.6 353.2 874.2 355.4 880.8C357.6 887.4 359.7 893.5 361.9 894.6C364.1 895.7 366.2 889.3 368.4 887.3C370.6 885.3 372.7 883.9 374.9 882.5C377.1 881.1 379.0 881.6 381.4 879.2C383.8 876.8 386.8 870.9 389.5 867.9C392.2 864.9 394.6 864.4 397.6 861.4C400.6 858.4 404.9 854.9 407.3 850.0C409.7 845.1 410.6 838.3 412.0 832.0C413.4 825.7 414.4 819.5 415.5 812.0C416.6 804.5 417.5 798.6 418.9 787.3C420.3 776.0 422.3 758.7 424.0 744.4C425.7 730.1 427.8 713.8 429.2 701.5C430.6 689.2 431.6 679.2 432.6 670.6C433.7 662.0 434.1 659.9 435.5 650.0C436.9 640.1 439.6 621.4 441.2 611.5C442.8 601.6 443.9 595.9 445.3 590.9C446.7 585.9 447.3 583.6 449.4 581.6C451.5 579.6 454.6 579.3 457.7 578.9C460.8 578.5 464.8 580.1 467.8 579.3C470.8 578.5 473.0 574.4 475.6 574.0C478.2 573.6 480.8 576.2 483.4 576.7C486.0 577.2 488.6 576.9 491.2 577.2C493.8 577.5 496.4 578.8 499.0 578.7C501.6 578.6 504.2 576.7 506.8 576.7C509.4 576.8 512.0 578.4 514.6 579.0C517.2 579.6 519.8 580.0 522.4 580.3C525.0 580.6 527.5 580.8 530.1 580.6C532.7 580.4 535.3 579.3 537.9 579.0C540.5 578.7 543.1 578.7 545.7 578.7C548.3 578.7 550.9 578.7 553.5 579.0C556.1 579.3 558.6 580.0 561.3 580.6C563.9 581.2 566.5 582.1 569.4 582.5C572.3 582.9 575.6 583.2 578.7 582.9C581.8 582.6 584.5 580.3 588.1 580.6C591.7 580.9 596.4 584.5 600.5 584.5C604.6 584.5 608.8 581.1 613.0 580.6C617.2 580.1 621.4 581.9 625.5 581.8C629.6 581.7 634.0 580.5 637.9 579.8C641.8 579.1 645.8 577.6 648.9 577.5C652.0 577.4 654.1 579.0 656.6 579.0C659.1 579.0 662.8 578.0 664.0 577.8" fill="none" stroke="#ff1a3c" stroke-width="1.5" stroke-linejoin="round"/>
<path d="M77.0 585.7C77.5 585.4 79.2 583.5 80.2 583.7C81.2 583.9 82.3 585.1 83.3 586.8C84.3 588.5 85.4 592.6 86.4 594.0C87.4 595.4 88.0 595.5 89.4 595.0C90.8 594.5 92.7 591.4 94.6 590.9C96.5 590.4 98.8 591.9 100.8 591.9C102.8 591.9 105.0 591.1 106.9 590.9C108.8 590.7 110.4 589.7 112.1 590.9C113.8 592.1 115.5 594.9 117.2 598.1C118.9 601.4 121.0 607.5 122.4 610.4C123.8 613.3 124.6 615.6 125.8 615.8C127.0 616.0 128.1 613.9 129.6 611.5C131.1 609.1 133.0 603.5 134.7 601.2C136.4 598.9 138.0 597.9 139.9 597.7C141.8 597.5 144.1 599.0 146.1 600.1C148.1 601.2 150.1 603.4 152.2 604.3C154.2 605.2 156.3 604.9 158.4 605.7C160.5 606.6 162.5 609.0 164.6 609.4C166.7 609.8 168.8 607.9 170.8 608.4C172.9 608.9 174.5 611.0 176.9 612.5C179.3 614.0 182.4 616.8 185.2 617.6C187.9 618.5 190.9 617.6 193.4 617.6C195.9 617.6 197.9 617.1 200.0 617.8C202.1 618.4 203.8 619.6 206.2 621.5C208.6 623.4 212.0 628.3 214.4 629.3C216.8 630.3 218.7 628.6 220.6 627.6C222.5 626.6 223.6 623.1 225.7 623.5C227.8 623.9 230.3 629.5 232.9 629.7C235.5 629.9 238.4 623.6 241.2 624.6C243.9 625.6 247.0 634.1 249.4 635.5C251.8 636.9 253.7 633.9 255.6 632.8C257.5 631.7 259.1 628.2 260.7 628.7C262.2 629.2 264.1 634.0 264.9 635.9C265.7 637.8 265.0 638.5 265.5 640.0C266.0 641.5 266.6 643.7 268.1 644.8C269.7 645.9 272.6 644.8 274.8 646.7C277.0 648.6 279.1 653.7 281.5 656.2C283.9 658.7 286.9 660.0 289.1 661.9C291.3 663.8 292.7 665.0 294.8 667.7C296.9 670.4 299.1 673.6 301.5 678.2C303.9 682.8 307.4 690.8 309.2 695.3C311.0 699.8 311.1 700.6 312.4 705.3C313.7 710.0 315.6 716.4 317.2 723.4C318.8 730.4 320.5 740.1 321.9 747.3C323.3 754.4 324.8 759.2 325.8 766.3C326.8 773.4 327.5 784.4 328.1 790.0C328.7 795.6 328.6 794.6 329.4 800.0C330.2 805.4 331.2 813.2 332.7 822.4C334.1 831.6 336.6 845.7 338.1 855.3C339.6 864.9 340.0 870.0 341.8 880.0C343.6 890.0 346.4 903.8 348.8 915.3C351.2 926.8 354.6 943.0 356.3 948.8C358.0 954.6 357.4 950.8 359.0 950.2C360.6 949.6 363.3 945.8 365.6 945.3C367.9 944.8 369.9 947.2 372.7 947.1C375.5 947.0 380.0 948.0 382.4 944.9C384.8 941.8 385.3 935.4 386.8 928.5C388.3 921.6 390.0 911.9 391.2 903.8C392.4 895.7 392.5 892.2 393.8 880.0C395.1 867.8 397.7 843.9 399.2 830.6C400.7 817.3 402.0 810.1 403.0 800.0C404.0 789.9 404.0 782.3 405.2 770.2C406.4 758.1 408.6 739.3 410.3 727.3C412.0 715.3 413.8 706.7 415.5 698.1C417.2 689.5 418.7 683.0 420.6 675.8C422.5 668.6 424.8 661.7 426.8 654.7C428.9 647.8 430.5 638.6 432.9 634.1C435.3 629.6 438.4 629.6 441.2 627.9C443.9 626.2 447.3 625.2 449.4 623.8C451.4 622.4 451.8 622.1 453.5 619.7C455.2 617.3 457.8 611.9 459.7 609.4C461.6 606.9 463.1 607.3 464.7 604.8C466.3 602.3 467.8 598.6 469.4 594.6C470.9 590.6 472.7 583.1 474.0 580.6C475.3 578.1 475.8 579.1 477.1 579.8C478.4 580.4 480.2 582.9 481.8 584.5C483.4 586.1 484.9 588.1 486.5 589.2C488.1 590.3 489.6 591.3 491.2 591.2C492.8 591.1 494.1 588.1 495.9 588.4C497.7 588.6 499.8 593.1 502.1 592.7C504.4 592.3 507.3 586.2 509.9 586.0C512.5 585.8 515.1 590.2 517.7 591.5C520.3 592.8 522.9 593.0 525.5 593.8C528.1 594.6 530.4 597.2 533.3 596.2C536.1 595.2 540.0 588.6 542.6 587.6C545.2 586.6 546.8 590.7 548.9 590.3C551.0 589.9 553.0 584.8 555.1 585.3C557.2 585.8 559.7 591.7 561.3 593.1C562.9 594.5 562.6 595.1 564.7 593.8C566.8 592.5 571.1 585.9 574.0 585.3C576.9 584.7 579.4 590.6 581.8 590.0C584.1 589.4 585.8 583.6 588.1 581.4C590.5 579.2 593.6 577.1 595.9 576.7C598.2 576.3 600.3 578.9 602.1 579.0C603.9 579.1 604.7 578.8 606.8 577.5C608.9 576.2 612.0 572.1 614.6 571.5C617.2 570.9 620.1 573.1 622.4 573.6C624.7 574.1 626.5 573.8 628.6 574.4C630.7 575.0 633.0 576.7 634.8 577.5C636.6 578.3 637.9 579.3 639.5 579.0C641.1 578.7 642.5 577.1 644.2 575.9C645.9 574.7 647.5 571.8 649.6 572.0C651.7 572.2 654.7 576.9 656.6 577.2C658.5 577.5 660.1 574.3 661.3 573.6C662.5 572.9 663.5 573.2 664.0 573.1" fill="none" stroke="#1e2626" stroke-width="1.5" stroke-linejoin="round"/>
<g font-family="Liberation Sans, sans-serif" font-size="20" fill="#000">
<text x="261.6" y="602.2">a</text>
<text x="303.5" y="659.8">e</text>
<text x="120.8" y="661.4">d</text>
<text x="160" y="682.5">b</text>
<text x="205.7" y="733.9">c</text>
</g>
<path d="M246.3 604L258.7 596.8M289.6 660.6L300.9 654M114.9 637.6L125.9 647.4M171.6 673.1L179.4 658.4M212.1 717.2L217.9 698.8" stroke="#222" stroke-width="1.4" fill="none"/>
</svg></body></html>
